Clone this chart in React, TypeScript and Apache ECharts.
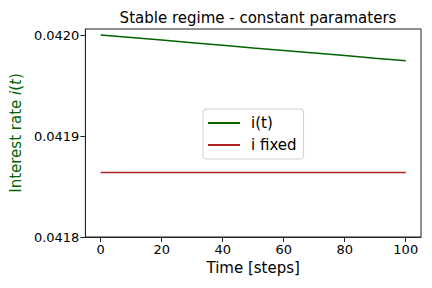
import React, { useEffect, useRef } from "react";
import * as echarts from "echarts";

const steps = [0, 10, 20, 30, 40, 50, 60, 70, 80, 90, 100];
const iT = [0.042, 0.0419975, 0.041995, 0.0419924, 0.0419899, 0.0419872, 0.0419847, 0.0419822, 0.0419797, 0.0419771, 0.0419746];
const fixedSteps = [0, 100];
const iFixed = [0.041864, 0.041864];
const xTicks = [0, 20, 40, 60, 80, 100];
const yTicks = [0.0418, 0.0419, 0.042];

export default function App() {
  const ref = useRef<HTMLDivElement>(null);
  useEffect(() => {
    const chart = echarts.init(ref.current!, null, { renderer: "svg" });
    const font = "DejaVu Sans";
    chart.setOption({
      animation: false,
      textStyle: { fontFamily: font },
      title: {
        text: "Stable regime - constant paramaters",
        left: 253,
        textAlign: "center",
        top: 5,
        textStyle: { fontFamily: font, fontSize: 15, fontWeight: "normal", color: "#000" },
      },
      grid: { left: 85, right: 11, top: 29, bottom: 51, show: true, borderColor: "#222", borderWidth: 1, backgroundColor: "transparent" },
      legend: {
        left: 203,
        top: 109,
        orient: "vertical",
        icon: "rect",
        itemWidth: 32,
        itemHeight: 2,
        itemGap: 4,
        padding: [5, 7, 5, 5],
        borderColor: "#d0d0d0",
        borderWidth: 1,
        borderRadius: 3,
        backgroundColor: "rgba(255,255,255,0.8)",
        textStyle: { fontFamily: font, fontSize: 15, color: "#000", lineHeight: 18, padding: [0, 0, 0, 6] },
        data: ["i(t)", "i fixed"],
      },
      xAxis: {
        type: "value",
        min: -5,
        max: 105,
        name: "Time [steps]",
        nameLocation: "middle",
        nameGap: 22,
        nameTextStyle: { fontFamily: font, fontSize: 15, color: "#000" },
        axisLine: { show: true, onZero: false, lineStyle: { color: "#222" } },
        axisTick: { show: true, customValues: xTicks, length: 5, lineStyle: { color: "#222" } },
        axisLabel: { customValues: xTicks, fontFamily: font, fontSize: 13, color: "#000", margin: 6 },
        splitLine: { show: false },
      },
      yAxis: {
        type: "value",
        min: 0.0418,
        max: 0.042006,
        name: "{a|Interest rate }{b|i}{a|(}{b|t}{a|)}",
        nameLocation: "middle",
        nameGap: 55,
        nameTextStyle: {
          fontFamily: font,
          fontSize: 15,
          color: "#006400",
          rich: {
            a: { fontFamily: font, fontSize: 15, color: "#006400" },
            b: { fontFamily: font, fontSize: 15, color: "#006400", fontStyle: "italic" },
          },
        },
        axisLine: { show: true, onZero: false, lineStyle: { color: "#222" } },
        axisTick: { show: true, customValues: yTicks, length: 5, lineStyle: { color: "#222" } },
        axisLabel: {
          customValues: yTicks,
          fontFamily: font,
          fontSize: 13,
          color: "#000",
          margin: 6,
          formatter: (v: number) => v.toFixed(4),
        },
        splitLine: { show: false },
      },
      series: [
        {
          name: "i(t)",
          type: "line",
          data: steps.map((s, k) => [s, iT[k]]),
          symbol: "none",
          lineStyle: { color: "#006400", width: 1.5 },
          itemStyle: { color: "#006400" },
        },
        {
          name: "i fixed",
          type: "line",
          data: fixedSteps.map((s, k) => [s, iFixed[k]]),
          symbol: "none",
          lineStyle: { color: "#b22222", width: 1.5 },
          itemStyle: { color: "#b22222" },
        },
      ],
    });
    return () => chart.dispose();
  }, []);
  return <div ref={ref} style={{ width: 432, height: 288, position: "absolute", left: 0, top: 0 }} />;
}
